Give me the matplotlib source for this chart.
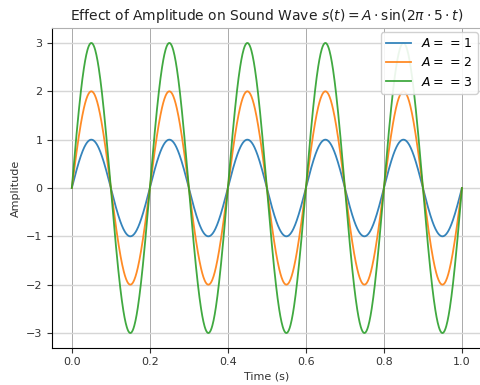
import matplotlib
matplotlib.use('Agg')
import matplotlib.pyplot as plt
import numpy as np

# wave parameters
amplitudes = [1, 2, 3]
frequency = 5          # Hz
duration = 1.0         # s
colors = ['#1f77b4', '#ff7f0e', '#2ca02c']

t = np.linspace(0, duration, 1000)

fig = plt.figure(figsize=(4.8, 3.85), dpi=100)
ax = fig.add_axes([0.109, 0.0974, 0.894, 0.8286])
for A, c in zip(amplitudes, colors):
    ax.plot(t, A * np.sin(2 * np.pi * frequency * t), color=c, lw=1.3,
            alpha=0.9, label=f'$A = $ = {A}')

ax.set_xlim(-0.05, 1.05)
ax.set_ylim(-3.3, 3.3)
ax.set_xticks(np.arange(0, 1.01, 0.2))
ax.set_yticks(range(-3, 4))
ax.tick_params(labelsize=8, colors='#333333', length=3.5)
ax.grid(True, axis='x', color='#aaaaaa', lw=0.7)
ax.grid(True, axis='y', color='#d6d6d6', lw=1.0)
ax.spines['top'].set_color('#b0b0b0')
ax.spines['right'].set_visible(False)
ax.set_xlabel('Time (s)', fontsize=8, color='#333333', labelpad=3)
ax.set_ylabel('Amplitude', fontsize=8, color='#333333')
ax.set_title(r'Effect of Amplitude on Sound Wave $s(t) = A \cdot \sin(2\pi \cdot 5 \cdot t)$',
             fontsize=10, color='#222222', pad=6)
ax.legend(loc='upper right', fontsize=9, framealpha=0.9, borderaxespad=0.3)

fig.savefig('out.png', dpi=100)
